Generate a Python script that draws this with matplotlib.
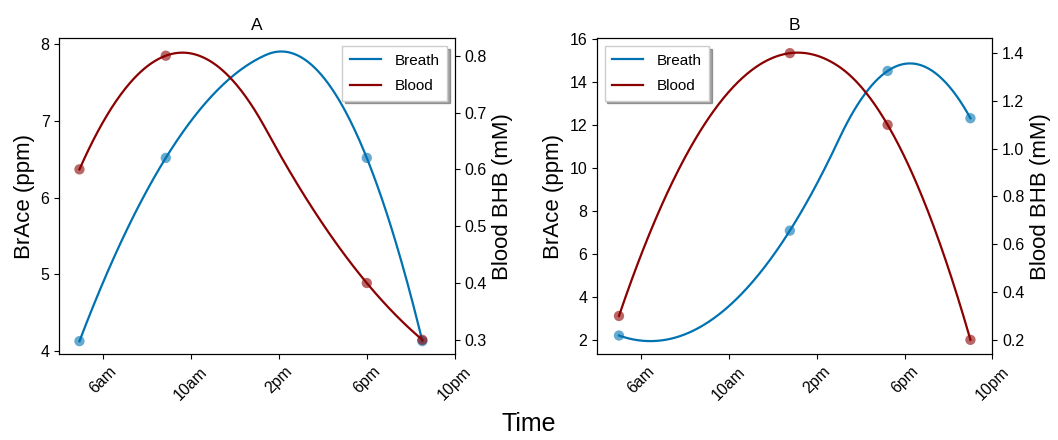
import numpy as np
import matplotlib
matplotlib.use("Agg")
import matplotlib.pyplot as plt
from matplotlib.ticker import MultipleLocator

plt.rcParams['font.family'] = ['Liberation Sans', 'DejaVu Sans']

# hours of day for each sample
hours_a = [4.92, 8.85, 18.0, 20.53]
breath_a = [4.13, 6.52, 6.52, 4.13]
blood_a = [0.6, 0.8, 0.4, 0.3]

hours_b = [5.0, 12.78, 17.23, 21.0]
breath_b = [2.2, 7.08, 14.51, 12.31]
blood_b = [0.3, 1.4, 1.1, 0.2]

tick_hours = [6, 10, 14, 18, 22]
tick_labels = ['6am', '10am', '2pm', '6pm', '10pm']

blue = '#0072b2'
red = '#8b0000'


def basis(t, k, xs):
    # Cox-de Boor B-spline basis
    xs = np.asarray(xs, float)
    B = np.zeros((len(xs), len(t) - 1))
    for i in range(len(t) - 1):
        if t[i] < t[i + 1]:
            B[:, i] = (xs >= t[i]) & (xs < t[i + 1])
    last = np.max(np.nonzero(np.diff(t) > 0))
    B[xs >= t[-1], last] = 1
    for d in range(1, k + 1):
        Bn = np.zeros((len(xs), len(t) - 1 - d))
        for i in range(len(t) - 1 - d):
            if t[i + d] > t[i]:
                Bn[:, i] += (xs - t[i]) / (t[i + d] - t[i]) * B[:, i]
            if t[i + d + 1] > t[i + 1]:
                Bn[:, i] += (t[i + d + 1] - xs) / (t[i + d + 1] - t[i + 1]) * B[:, i + 1]
        B = Bn
    return B


def smooth(x, y, n=300):
    # quadratic interpolating spline (knots like scipy make_interp_spline k=2)
    x = np.asarray(x, float)
    mids = (x[1:] + x[:-1]) / 2
    t = np.r_[[x[0]] * 3, mids[1:-1], [x[-1]] * 3]
    c = np.linalg.solve(basis(t, 2, x), np.asarray(y, float))
    xs = np.linspace(x[0], x[-1], n)
    return xs, basis(t, 2, xs) @ c


fig, axes = plt.subplots(1, 2, figsize=(10.58, 4.4), dpi=100)
fig.subplots_adjust(left=0.056, right=0.938, top=0.913, bottom=0.195, wspace=0.36)

panels = [
    ('A', hours_a, breath_a, blood_a, (3.96, 8.08), 1, 0.1, 'upper right'),
    ('B', hours_b, breath_b, blood_b, (1.33, 16.03), 2, 0.2, 'upper left'),
]

for ax, (title, hrs, br, bl, ylim, st1, st2, loc) in zip(axes, panels):
    ax2 = ax.twinx()
    ax.scatter(hrs, br, s=55, color=blue, alpha=0.6, edgecolors='none', zorder=1)
    xs, ys = smooth(hrs, br)
    l1, = ax.plot(xs, ys, color=blue, lw=1.6, label='Breath', zorder=2)
    ax2.scatter(hrs, bl, s=55, color=red, alpha=0.6, edgecolors='none', zorder=1)
    xs, ys = smooth(hrs, bl)
    l2, = ax2.plot(xs, ys, color=red, lw=1.6, label='Blood', zorder=2)

    ax.set_xlim(4, 22)
    ax.set_ylim(*ylim)
    ax.yaxis.set_major_locator(MultipleLocator(st1))
    ax2.yaxis.set_major_locator(MultipleLocator(st2))
    ax.set_xticks(tick_hours)
    ax.set_xticklabels(tick_labels, rotation=45)
    ax.set_title(title, fontsize=12.5)
    ax.set_ylabel('BrAce (ppm)', fontsize=16)
    ax2.set_ylabel('Blood BHB (mM)', fontsize=16)
    for a in (ax, ax2):
        a.tick_params(labelsize=11.5)
    ax.legend([l1, l2], ['Breath', 'Blood'], loc=loc, shadow=True,
              fancybox=False, fontsize=11, framealpha=1, labelspacing=0.75,
              borderpad=0.5, handletextpad=0.9)

fig.supxlabel('Time', fontsize=18, y=0.01)

plt.savefig('out.png', dpi=100)
